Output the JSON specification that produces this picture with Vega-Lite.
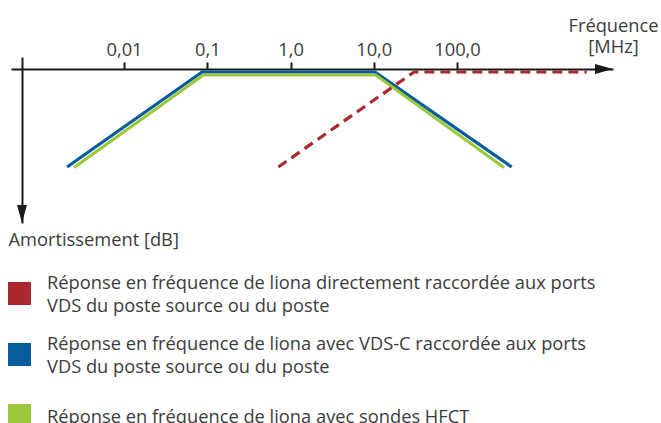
{
  "$schema": "https://vega.github.io/schema/vega-lite/v6.json",
  "width": 602,
  "height": 166,
  "autosize": {"type": "none"},
  "padding": {"left": 11, "top": 57, "right": 48, "bottom": 200},
  "background": "white",
  "config": {
    "view": {"stroke": null},
    "font": "Open Sans",
    "axis": {"labelFont": "Open Sans", "titleFont": "Open Sans"},
    "legend": {"labelFont": "Open Sans"}
  },
  "datasets": {
    "curves": [
      {"serie": "Réponse en fréquence de liona directement raccordée aux ports VDS du poste source ou du poste", "f": 0.714, "v": 98},
      {"serie": "Réponse en fréquence de liona directement raccordée aux ports VDS du poste source ou du poste", "f": 30.5, "v": 3},
      {"serie": "Réponse en fréquence de liona directement raccordée aux ports VDS du poste source ou du poste", "f": 3614, "v": 3},
      {"serie": "Réponse en fréquence de liona avec VDS-C raccordée aux ports VDS du poste source ou du poste", "f": 0.00207, "v": 98},
      {"serie": "Réponse en fréquence de liona avec VDS-C raccordée aux ports VDS du poste source ou du poste", "f": 0.0865, "v": 3},
      {"serie": "Réponse en fréquence de liona avec VDS-C raccordée aux ports VDS du poste source ou du poste", "f": 10.35, "v": 3},
      {"serie": "Réponse en fréquence de liona avec VDS-C raccordée aux ports VDS du poste source ou du poste", "f": 454, "v": 98},
      {"serie": "Réponse en fréquence de liona avec sondes HFCT", "f": 0.00251, "v": 98.5},
      {"serie": "Réponse en fréquence de liona avec sondes HFCT", "f": 0.0897, "v": 6},
      {"serie": "Réponse en fréquence de liona avec sondes HFCT", "f": 10.55, "v": 6},
      {"serie": "Réponse en fréquence de liona avec sondes HFCT", "f": 367, "v": 98.5}
    ],
    "xEnd": [{"f": 7480, "v": 0}],
    "yEnd": [{"f": 0.000595, "v": 154}]
  },
  "layer": [
    {
      "data": {"name": "curves"},
      "transform": [{"filter": "indexof(datum.serie, 'directement') < 0"}],
      "mark": {"type": "line", "strokeWidth": 3.2, "strokeCap": "butt", "strokeJoin": "miter"},
      "encoding": {
        "x": {
          "field": "f", "type": "quantitative",
          "scale": {"type": "log", "domain": [0.000439, 7480], "nice": false},
          "axis": {
            "orient": "top", "offset": -12,
            "values": [0.01, 0.1, 1, 10, 100],
            "labelExpr": "datum.value < 0.05 ? '0,01' : datum.value < 0.5 ? '0,1' : datum.value < 5 ? '1,0' : datum.value < 50 ? '10,0' : '100,0'",
            "labelFontSize": 18.3, "labelColor": "#3c3c3c", "labelPadding": 3,
            "tickSize": 7, "tickWidth": 2, "tickColor": "#1a1a1a",
            "domainColor": "#1a1a1a", "domainWidth": 2,
            "grid": false,
            "title": ["Fréquence", "[MHz]"],
            "titleFontSize": 18.3, "titleFontWeight": "normal", "titleColor": "#3c3c3c",
            "titleAlign": "center", "titleBaseline": "top", "titleLineHeight": 21,
            "titleX": 602, "titleY": -51.5, "titleAngle": 0
          }
        },
        "y": {
          "field": "v", "type": "quantitative",
          "scale": {"domain": [-12, 154], "reverse": true, "nice": false, "zero": false},
          "axis": {
            "orient": "left", "offset": -11,
            "ticks": false, "labels": false, "grid": false,
            "domainColor": "#1a1a1a", "domainWidth": 2,
            "title": "Amortissement [dB]",
            "titleFontSize": 18.3, "titleFontWeight": "normal", "titleColor": "#3c3c3c",
            "titleAngle": 0, "titleAlign": "left", "titleBaseline": "alphabetic",
            "titleX": -14, "titleY": 188
          }
        },
        "color": {
          "field": "serie", "type": "nominal",
          "scale": {
            "domain": [
              "Réponse en fréquence de liona directement raccordée aux ports VDS du poste source ou du poste",
              "Réponse en fréquence de liona avec VDS-C raccordée aux ports VDS du poste source ou du poste",
              "Réponse en fréquence de liona avec sondes HFCT"
            ],
            "range": ["#ab292c", "#075c9e", "#9bc83b"]
          },
          "legend": {
            "orient": "none", "legendX": -3, "legendY": 225,
            "title": null, "padding": 0,
            "symbolType": "square", "symbolSize": 529, "symbolStrokeWidth": 0,
            "labelFontSize": 18.3, "labelColor": "#3c3c3c", "labelOffset": 16, "labelLimit": 640,
            "rowPadding": 19,
            "labelExpr": "indexof(datum.label, ' VDS du') > 0 ? [substring(datum.label, 0, indexof(datum.label, ' VDS du')), substring(datum.label, indexof(datum.label, ' VDS du') + 1)] : ['', datum.label, '']",
            "encode": {
              "symbols": {"update": {"fill": {"scale": "color", "field": "value"}, "strokeWidth": {"value": 0}, "opacity": {"value": 1}}},
              "labels": {"update": {
                "lineHeight": {"signal": "indexof(datum.label, ' VDS du') > 0 ? 23 : 11.5"},
                "dy": {"value": -9.5}
              }}
            }
          }
        },
        "order": {"field": "f", "type": "quantitative"}
      }
    },
    {
      "data": {"name": "curves"},
      "transform": [{"filter": "indexof(datum.serie, 'directement') >= 0"}],
      "mark": {"type": "line", "strokeWidth": 3.2, "strokeDash": [10, 6], "strokeCap": "butt"},
      "encoding": {
        "x": {"field": "f", "type": "quantitative"},
        "y": {"field": "v", "type": "quantitative"},
        "color": {"field": "serie", "type": "nominal"},
        "order": {"field": "f", "type": "quantitative"}
      }
    },
    {
      "data": {"name": "xEnd"},
      "mark": {"type": "point", "shape": "M-2,-0.55L0,0L-2,0.55Z", "size": 324, "filled": true, "color": "#1a1a1a", "opacity": 1, "strokeWidth": 0},
      "encoding": {
        "x": {"field": "f", "type": "quantitative"},
        "y": {"field": "v", "type": "quantitative"}
      }
    },
    {
      "data": {"name": "yEnd"},
      "mark": {"type": "point", "shape": "M-0.55,-2L0,0L0.55,-2Z", "size": 324, "filled": true, "color": "#1a1a1a", "opacity": 1, "strokeWidth": 0},
      "encoding": {
        "x": {"field": "f", "type": "quantitative"},
        "y": {"field": "v", "type": "quantitative"}
      }
    }
  ]
}
